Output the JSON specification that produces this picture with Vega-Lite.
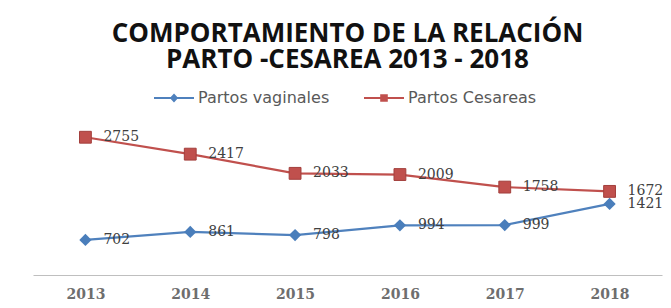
{
  "$schema": "https://vega.github.io/schema/vega-lite/v6.json",
  "width": 629,
  "height": 150,
  "autosize": {"type": "none"},
  "padding": {"left": 33, "top": 125, "right": 9, "bottom": 33},
  "background": "white",
  "config": {"view": {"stroke": null}},
  "title": {
    "text": ["COMPORTAMIENTO DE LA RELACIÓN", "PARTO -CESAREA 2013 - 2018"],
    "font": "Open Sans",
    "fontSize": 26,
    "fontWeight": "bold",
    "color": "#111111",
    "lineHeight": 26,
    "anchor": "middle",
    "offset": 4
  },
  "data": {
    "values": [
      {"year": "2013", "serie": "Partos vaginales", "value": 702},
      {"year": "2014", "serie": "Partos vaginales", "value": 861},
      {"year": "2015", "serie": "Partos vaginales", "value": 798},
      {"year": "2016", "serie": "Partos vaginales", "value": 994},
      {"year": "2017", "serie": "Partos vaginales", "value": 999},
      {"year": "2018", "serie": "Partos vaginales", "value": 1421},
      {"year": "2013", "serie": "Partos Cesareas", "value": 2755},
      {"year": "2014", "serie": "Partos Cesareas", "value": 2417},
      {"year": "2015", "serie": "Partos Cesareas", "value": 2033},
      {"year": "2016", "serie": "Partos Cesareas", "value": 2009},
      {"year": "2017", "serie": "Partos Cesareas", "value": 1758},
      {"year": "2018", "serie": "Partos Cesareas", "value": 1672}
    ]
  },
  "encoding": {
    "x": {
      "field": "year",
      "type": "ordinal",
      "scale": {"type": "point", "padding": 0.5},
      "axis": {
        "title": null,
        "labelAngle": 0,
        "domainColor": "#BFBFBF",
        "domainWidth": 1,
        "ticks": false,
        "grid": false,
        "labelPadding": 12,
        "labelFont": "DejaVu Serif",
        "labelFontSize": 14,
        "labelFontWeight": "bold",
        "labelColor": "#6E6E6E"
      }
    },
    "y": {
      "field": "value",
      "type": "quantitative",
      "scale": {"domain": [0, 3000]},
      "axis": null
    }
  },
  "layer": [
    {
      "mark": {"type": "line", "strokeWidth": 2.2},
      "encoding": {
        "color": {
          "field": "serie",
          "type": "nominal",
          "scale": {"domain": ["Partos vaginales", "Partos Cesareas"], "range": ["#4F81BD", "#C0504D"]},
          "legend": {
            "orient": "none",
            "legendX": 120,
            "legendY": -48,
            "direction": "horizontal",
            "title": null,
            "symbolSize": 1600,
            "labelOffset": 3,
            "columnPadding": 30,
            "labelFont": "DejaVu Sans",
            "labelFontSize": 16,
            "labelColor": "#595959",
            "encode": {
              "symbols": {
                "update": {
                  "shape": {"signal": "datum.value == 'Partos vaginales' ? 'M-1,0L1,0M0,-0.15L0.14,0L0,0.15L-0.14,0Z' : 'M-1,0L1,0M-0.14,-0.14L0.14,-0.14L0.14,0.14L-0.14,0.14Z'"},
                  "fill": {"signal": "datum.value == 'Partos vaginales' ? '#4F81BD' : '#C0504D'"},
                  "stroke": {"signal": "datum.value == 'Partos vaginales' ? '#4F81BD' : '#C0504D'"},
                  "strokeWidth": {"value": 2},
                  "opacity": {"value": 1}
                }
              }
            }
          }
        }
      }
    },
    {
      "transform": [{"filter": "datum.serie == 'Partos vaginales'"}],
      "mark": {"type": "point", "shape": "diamond", "filled": true, "opacity": 1, "size": 150, "color": "#4A7EBB"}
    },
    {
      "transform": [{"filter": "datum.serie == 'Partos Cesareas'"}],
      "mark": {"type": "point", "shape": "square", "filled": true, "opacity": 1, "size": 140, "color": "#C0504D", "stroke": "#A33F3C", "strokeWidth": 1}
    },
    {
      "mark": {
        "type": "text",
        "align": "left",
        "baseline": "middle",
        "dx": 18,
        "font": "DejaVu Serif",
        "fontSize": 14,
        "color": "#404040"
      },
      "encoding": {
        "text": {"field": "value", "type": "quantitative"}
      }
    }
  ]
}
